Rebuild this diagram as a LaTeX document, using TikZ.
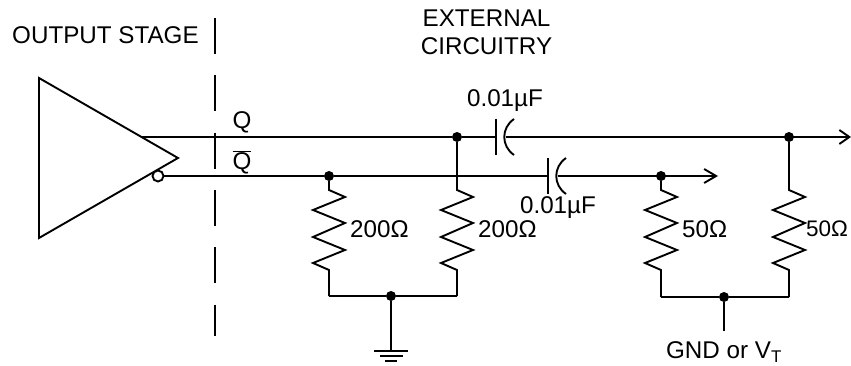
\documentclass[tikz,border=0pt]{standalone}
\usepackage{fontspec}
\setmainfont{Liberation Sans}
\usetikzlibrary{arrows.meta}
\usetikzlibrary{calc}

\tikzset{
  wire/.style={line width=1.9pt,line join=miter},
  dot/.style={circle,fill=black,inner sep=0pt,minimum size=10pt},
  bubble/.style={circle,draw,line width=1.9pt,fill=white,inner sep=0pt,minimum size=11pt},
  lab/.style={inner sep=0pt,font=\fontsize{24.2}{28}\selectfont}
}
\newcommand{\zigzag}{-- ++(16,7) -- ++(-32,13) -- ++(32,13) -- ++(-32,14) -- ++(32,13) -- ++(-32,13)}

\begin{document}
\begin{tikzpicture}[x=1pt,y=-1pt]
  \useasboundingbox (0,0) rectangle (851,366);

  % buffer
  \coordinate (Atop) at (39,78);
  \coordinate (Abot) at (39,238);
  \coordinate (Atip) at (178,158);
  \coordinate (Ao_q) at (142,137);
  \draw [wire] (Atop) -- (Atip) -- (Abot) -- cycle;
  \node [bubble] (Ao_qn) at (158,176) {};

  % boundary
  \coordinate (Bnd_t) at (215,18);
  \coordinate (Bnd_b) at (215,336);
  \draw [wire,dash pattern=on 36pt off 21.3pt] (Bnd_t) -- (Bnd_b);

  % junctions
  \node [dot] (Jq_a) at (457,137) {};
  \node [dot] (Jq_b) at (789,137) {};
  \node [dot] (Jn_a) at (329,176) {};
  \node [dot] (Jn_b) at (661,176) {};
  \node [dot] (Jgnd) at (391,296) {};
  \node [dot] (Jvt) at (724,297) {};

  % capacitors
  \foreach \name/\xpos/\ypos in {C_q/496/137,C_n/548/176} {
    \coordinate (\name_a) at (\xpos,\ypos);
    \coordinate (\name_b) at (\xpos+9.5,\ypos);
    \draw [wire] (\xpos,\ypos-18) -- (\xpos,\ypos+18);
    \draw [wire] (\xpos+18,\ypos-18) .. controls (\xpos+5,\ypos-9) and (\xpos+5,\ypos+9) .. (\xpos+18,\ypos+18);
  }

  % outputs
  \coordinate (Qend) at (851,137);
  \coordinate (Nend) at (718,176);
  \path [draw,wire]
    (Ao_q) -- (Jq_a) -- (C_q_a)
    (Ao_qn) -- (Jn_a) -- (C_n_a);
  \path [draw,wire,-{Straight Barb[length=10pt,width=14pt]}]
    (C_q_b) -- (Qend);
  \path [draw,wire,-{Straight Barb[length=12pt,width=14pt]}]
    (C_n_b) -- (Nend);
  \draw [wire] (C_n_b) -- (Jn_b);

  % resistors
  \foreach \name/\xpos/\from/\yend in {Ra/329/Jn_a/296,Rb/457/Jq_a/296,Rc/661/Jn_b/297,Rd/789/Jq_b/297} {
    \coordinate (\name_in) at (\xpos,190);
    \coordinate (\name_out) at (\xpos,270);
    \coordinate (\name_end) at (\xpos,\yend);
    \draw [wire] (\from) -- (\name_in) \zigzag -- (\name_out) -- (\name_end);
  }
  \draw [wire] (Ra_end) -- (Jgnd) -- (Rb_end);
  \draw [wire] (Rc_end) -- (Jvt) -- (Rd_end);

  % ground
  \coordinate (Gnd) at (391,351);
  \coordinate (Vt) at (724,331);
  \draw [wire] (Jgnd) -- (Gnd);
  \draw [wire] (Jvt) -- (Vt);
  \draw [wire] (374,351) -- (408,351);
  \draw [wire] (380,356) -- (403,356);
  \draw [wire] (385,361) -- (397,361);

  % labels
  \node [lab,anchor=west] (Lout) at (12,35) {OUTPUT STAGE};
  \node [lab,align=center,anchor=center] (Lext) at (486.5,32) {EXTERNAL\\CIRCUITRY};
  \node [lab] (Lq) at (242,122) {Q};
  \node [lab] (Ln) at (242,162) {$\overline{\mbox{Q}}$};
  \node [lab] (Lcq) at (505,101) {0.01µF};
  \node [lab] (Lcn) at (558,208) {0.01µF};
  \node [lab,anchor=west] (Lra) at (350,229) {200Ω};
  \node [lab,anchor=west] (Lrb) at (478,229) {200Ω};
  \node [lab,anchor=west] (Lrc) at (682,229) {50Ω};
  \node [lab,anchor=west,font=\fontsize{22.5}{28}\selectfont] (Lrd) at (806,229) {50Ω};
  \node [lab] (Lvt) at (724,352) {GND or V\textsubscript{T}};
\end{tikzpicture}
\end{document}
